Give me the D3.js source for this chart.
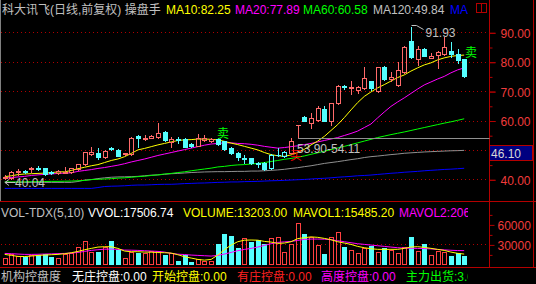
<!DOCTYPE html>
<html>
<head>
<meta charset="utf-8">
<script src="https://cdn.jsdelivr.net/npm/d3@7"></script>
<style>
html, body { margin: 0; padding: 0; background: #000; }
svg { display: block; }
text { font-family: "Liberation Sans", Arial, "Noto Sans CJK SC", sans-serif; font-size: 12px; }
</style>
</head>
<body>
<svg id="chart" width="536" height="284"></svg>
<script>
// 일봉 OHLC (70개)
var kOpen = [40.6,40.4,42.4,42.8,43.5,43.8,43.7,42.4,42.0,42.3,
	42.4,43.4,45.1,48.6,49.0,47.5,50.6,50.0,48.5,48.5,
	54.7,53.6,54.2,54.5,56.2,52.8,53.7,53.7,51.9,51.4,
	53.4,53.0,53.6,52.9,50.8,49.1,46.9,47.2,45.7,45.5,
	43.8,48.2,47.9,49.1,58.4,61.3,59.05,60.2,63.9,60.0,
	65.9,71.7,71.0,70.4,71.0,73.4,70.1,78.1,74.1,72.1,
	76.6,87.1,80.8,84.3,81.4,82.3,82.5,83.6,82.6,80.9];
var kHigh = [41.5,42.8,43.5,43.2,44.3,44.6,43.9,42.7,43.1,44.3,
	43.9,45.3,49.4,50.9,50.5,50.0,50.9,50.3,49.0,54.3,
	55.0,54.9,55.0,59.0,56.4,54.5,54.4,54.0,52.2,55.4,
	55.0,54.2,53.9,53.1,51.0,49.3,48.3,47.4,46.0,45.8,
	48.5,50.5,49.5,53.9,58.6,61.5,62.4,65.0,64.8,66.0,
	72.0,72.0,73.4,71.8,78.3,73.6,78.3,78.4,76.5,80.0,
	85.3,91.93,85.5,84.5,83.0,83.6,88.5,86.8,84.3,81.0];
var kLow = [40.04,40.2,41.4,42.2,42.6,43.1,41.5,41.9,41.9,42.0,
	42.2,43.2,44.9,48.3,46.9,47.3,49.8,47.8,48.2,48.3,
	50.9,53.3,54.0,54.2,53.1,50.9,52.4,50.9,50.9,51.2,
	53.0,52.7,51.6,50.1,48.5,46.6,45.4,45.2,44.3,43.0,
	43.6,48.0,47.7,48.9,54.11,59.7,57.3,60.0,59.7,58.5,
	65.6,70.8,68.9,69.5,70.7,70.5,69.8,73.7,73.4,71.7,
	76.3,81.4,78.9,81.8,81.2,77.8,82.3,81.5,79.6,74.9];
var kClose = [40.8,42.5,42.8,42.5,43.9,43.5,41.8,42.1,42.8,42.6,
	43.7,45.1,49.2,49.2,47.5,49.7,50.2,48.0,48.8,54.1,
	53.9,54.1,54.7,55.6,53.4,53.7,53.3,51.1,51.3,54.0,
	53.9,53.7,51.9,50.4,48.8,47.5,47.4,45.5,45.2,43.6,
	48.3,48.4,49.3,53.0,58.5,59.9,60.75,64.1,60.0,65.8,
	71.7,71.3,71.5,71.5,74.3,71.0,78.1,74.0,74.9,77.2,
	84.9,81.7,84.3,82.0,82.0,83.2,84.9,82.5,80.6,75.3];

// 지표가 칠한 봉 (index)
var paintIdx = [36, 40, 41, 42];

// 이동평균선
var ma10 = [40.9,41.2,41.6,41.8,41.9,42.0,42.1,42.3,42.5,42.55,
	43.0,43.6,44.1,44.6,45.0,45.7,46.4,46.9,47.7,48.8,
	50.0,50.5,51.1,51.7,52.2,52.7,53.2,53.4,53.5,53.7,
	53.7,53.6,53.4,52.9,52.3,51.8,51.2,50.6,50.0,49.1,
	48.4,48.0,47.8,48.3,49.1,50.2,51.7,53.0,54.6,56.6,
	58.6,61.0,63.6,66.1,68.2,69.7,71.1,72.2,73.4,74.6,
	75.5,76.8,77.9,78.9,79.6,80.6,81.3,81.8,82.1,82.25];
var ma20 = [40.4,40.6,40.8,41.0,41.3,41.5,41.7,41.8,42.0,42.1,
	42.2,42.7,43.0,43.3,43.7,44.0,44.4,44.8,45.3,45.9,
	46.4,46.9,47.5,48.1,48.6,49.1,49.6,50.1,50.6,51.1,
	51.6,52.0,52.2,52.4,52.4,52.2,52.1,51.9,51.6,51.2,
	50.9,50.6,50.8,51.1,51.4,51.8,52.2,52.7,53.2,53.7,
	54.2,54.9,55.6,56.4,57.6,58.8,60.9,62.9,64.8,66.3,
	67.7,69.2,70.7,72.1,73.1,74.1,75.0,76.2,77.2,77.89];
var ma60 = [39.1,39.1,39.1,39.15,39.2,39.2,39.25,39.3,39.3,39.35,
	39.4,39.5,39.6,39.9,40.0,40.1,40.2,40.4,40.5,40.7,
	40.9,41.05,41.3,41.5,41.8,42.0,42.3,42.55,42.9,43.2,
	43.5,43.8,44.2,44.4,44.7,44.9,45.0,45.2,45.4,45.7,
	46.05,46.4,46.8,47.1,47.5,47.95,48.5,49.0,49.55,50.1,
	50.65,51.2,51.8,52.4,53.0,53.6,54.2,54.7,55.2,55.65,
	56.1,56.6,57.1,57.6,58.1,58.6,59.1,59.55,60.05,60.58];
var ma120 = [38.95,38.95,38.95,38.95,38.95,38.95,38.95,38.95,38.95,38.95,
	38.95,39.25,39.75,39.9,40.25,40.5,40.7,40.8,40.85,40.9,
	41.0,41.2,41.4,41.5,41.7,41.9,42.0,42.15,42.3,42.4,
	42.5,42.55,42.6,42.6,42.65,42.7,42.7,42.8,42.8,42.9,
	43.05,43.2,43.4,43.7,43.95,44.3,44.6,45.0,45.4,45.7,
	46.0,46.35,46.7,47.0,47.4,47.7,47.9,48.15,48.4,48.6,
	48.85,49.0,49.15,49.3,49.4,49.5,49.6,49.7,49.75,49.84];
var ma250 = [36.9,36.9,36.9,36.9,36.9,36.9,36.9,36.9,36.9,36.9,
	36.9,36.9,36.9,36.9,37.2,37.55,37.65,37.7,37.8,37.95,
	38.05,38.05,38.15,38.25,38.3,38.3,38.4,38.55,38.6,38.7,
	38.75,38.85,38.95,39.0,39.1,39.1,39.2,39.25,39.3,39.4,
	39.5,39.55,39.65,39.75,39.85,39.95,40.1,40.25,40.35,40.5,
	40.7,40.85,41.0,41.2,41.3,41.45,41.65,41.85,42.05,42.2,
	42.4,42.55,42.7,42.9,43.05,43.2,43.35,43.45,43.6,43.75];

// 거래량
var vols = [9000,15000,12900,11400,14000,14000,15000,11400,9000,15000,
	17500,26500,35500,19000,19000,26500,35500,21500,9000,19000,
	16500,17500,19800,19800,13800,17700,4800,13800,3750,8700,
	5250,5250,30300,45300,42300,24750,39750,33750,36300,31200,
	39750,41250,18750,31200,62250,46200,41250,29700,16200,40800,
	48300,25500,21500,16500,24000,28000,19000,24000,21500,16500,
	26500,40500,20500,30500,14000,20500,19000,12500,16500,13203];
var mavol1 = [15000,13500,12000,11800,12500,13500,14000,14500,15000,16000,
	17500,19500,22000,24000,26000,26500,26500,24000,20000,19000,
	19000,18500,18300,17800,17500,17000,14500,11500,9500,7500,
	6400,7500,14000,22000,29000,34000,36300,36600,36300,34500,
	33500,31500,32000,34000,38700,40000,41250,40600,39000,37000,
	34000,32000,30000,27000,25000,23500,22600,22500,22600,22600,
	24000,26000,26600,25500,24100,22500,21000,18500,16600,15485];
var mavol2 = [16500,16000,15500,15000,15000,15200,15500,15800,16200,16500,
	17000,18000,19500,21000,22000,22800,23000,22500,21500,21300,
	21000,20500,20000,19500,18500,16500,15300,14800,14000,13500,
	13000,12500,13500,15500,18000,20500,22500,24000,26000,28500,
	31000,33000,33800,34500,36000,37500,38000,38000,37800,37000,
	35500,34000,32500,31000,30000,29000,28000,27000,26000,25000,
	24500,24200,24000,23800,23200,22500,21800,21200,20800,20600];

// 축 눈금 (50.00 은 커서 가격 상자에 가려짐)
var priceTicks = [40, 50, 60, 70, 80, 90];
var priceLabelTicks = [40, 60, 70, 80, 90];
var priceMinorTicks = [45, 55, 65, 75, 85];
var volTicks = [30000, 60000];
var volMinorTicks = [15000, 45000, 75000];

// 표시 문자열
var titleItems = [
	{ text: "科大讯飞(日线,前复权) 操盘手", x: 2, color: "#c0c0c0" },
	{ text: "MA10:82.25", x: 166, color: "#ffff00" },
	{ text: "MA20:77.89", x: 235, color: "#ff00ff" },
	{ text: "MA60:60.58", x: 303, color: "#00ff00" },
	{ text: "MA120:49.84", x: 373, color: "#c0c0c0" },
	{ text: "MA250:43.75", x: 450, color: "#0000ff" }
];
var volTitleItems = [
	{ text: "VOL-TDX(5,10)", x: 1, color: "#c0c0c0" },
	{ text: "VVOL:17506.74", x: 88, color: "#ffffff" },
	{ text: "VOLUME:13203.00", x: 183, color: "#ffff00" },
	{ text: "MAVOL1:15485.20", x: 293, color: "#ffff00" },
	{ text: "MAVOL2:20600.00", x: 399, color: "#ff00ff" }
];
var bottomItems = [
	{ text: "机构控盘度", x: 1, color: "#c0c0c0" },
	{ text: "无庄控盘:0.00", x: 72, color: "#ffffff" },
	{ text: "开始控盘:0.00", x: 152, color: "#ffff00" },
	{ text: "有庄控盘:0.00", x: 237, color: "#ff2020" },
	{ text: "高度控盘:0.00", x: 321, color: "#ff00ff" },
	{ text: "主力出货:3.00", x: 406, color: "#00ff00" }
];

var chartObj = {

	svg : null,
	x : null,
	yPrice : null,
	yVol : null,

	color : {
		up : "#ff6a6a",
		upVol : "#ff4040",
		down : "#54ffff",
		frame : "#b40000",
		grid : "#b00000",
		label : "#f03c3c",
		text : "#c0c0c0"
	},

	layout : {
		plotRight : 489.5,
		axisRight : 533.5,
		mainBottom : 201.5,
		volBottom : 267.5
	},

	init : function(id) {
		var that = this;
		that.svg = d3.select(id);
		that.x = d3.scaleLinear().domain([0, kOpen.length - 1]).range([4.7, 464.2]);
		that.yPrice = d3.scaleLinear().domain([40, 90]).range([179.3, 32.3]);
		that.yVol = d3.scaleLinear().domain([0, 60000]).range([264.4, 224.4]);

		var defs = that.svg.append("defs");
		defs.append("clipPath").attr("id", "clipText")
			.append("rect").attr("x", 0).attr("y", 0).attr("width", 468).attr("height", 284);
	},

	draw : function() {
		var that = this;
		that.svg.append("rect").attr("width", 536).attr("height", 284).attr("fill", "#000");
		that.drawGrid();
		that.drawFrame();
		that.drawAxes();
		that.drawMa();
		that.drawCandles();
		that.drawMarks();
		that.drawVolume();
		that.drawTexts();
	},

	drawGrid : function() {
		var that = this;
		var g = that.svg.append("g");
		priceTicks.forEach(function(t) {
			var y = Math.round(that.yPrice(t)) + 0.5;
			that.drawLine(g, 1, y, that.layout.plotRight, y, that.color.grid).attr("stroke-dasharray", "1,3");
		});
		var vy = Math.round(that.yVol(30000)) + 0.5;
		that.drawLine(g, 1, vy, that.layout.plotRight, vy, that.color.grid).attr("stroke-dasharray", "1,3");
	},

	drawFrame : function() {
		var that = this;
		var l = that.layout;
		that.drawLine(that.svg, 0.5, 0, 0.5, l.mainBottom, "#808080");
		that.drawLine(that.svg, l.plotRight, 0, l.plotRight, l.volBottom, that.color.frame);
		that.drawLine(that.svg, l.axisRight, 0, l.axisRight, l.volBottom, that.color.frame);
		that.drawLine(that.svg, 0, l.mainBottom, 536, l.mainBottom, that.color.frame);
		that.drawLine(that.svg, 0, l.volBottom, 536, l.volBottom, that.color.frame);

		// 오른쪽 위 아이콘
		that.svg.append("rect").attr("x", 476.5).attr("y", 3.5).attr("width", 10).attr("height", 9)
			.attr("fill", "none").attr("stroke", that.color.frame);
		that.drawLine(that.svg, 481.5, 3.5, 481.5, 12.5, that.color.frame);
	},

	drawAxes : function() {
		var that = this;
		var l = that.layout;

		var major = d3.axisRight(that.yPrice).tickValues(priceTicks).tickSize(6).tickFormat("");
		var labels = d3.axisRight(that.yPrice).tickValues(priceLabelTicks).tickSize(6).tickPadding(5)
			.tickFormat(d3.format(".2f"));
		var minor = d3.axisRight(that.yPrice).tickValues(priceMinorTicks).tickSize(3).tickFormat("");
		var vMajor = d3.axisRight(that.yVol).tickValues(volTicks).tickSize(5).tickPadding(3)
			.tickFormat(d3.format("d"));
		var vMinor = d3.axisRight(that.yVol).tickValues(volMinorTicks).tickSize(3).tickFormat("");

		[major, labels, minor, vMajor, vMinor].forEach(function(ax) {
			var g = that.svg.append("g").attr("transform", "translate(" + l.plotRight + ",0.5)").call(ax);
			g.select(".domain").remove();
			g.selectAll("line").attr("stroke", that.color.frame);
			g.selectAll("text").attr("fill", that.color.label).attr("font-size", "12px")
				.attr("font-family", "Liberation Sans, Arial, sans-serif").attr("dy", "0.38em");
		});
	},

	drawMa : function() {
		var that = this;
		var line = d3.line()
			.x(function(d, i) { return that.x(i); })
			.y(function(d) { return that.yPrice(d); });
		var g = that.svg.append("g").attr("fill", "none").attr("stroke-width", 1);
		[[ma250, "#0000ff"], [ma120, "#909090"], [ma60, "#00ff00"], [ma20, "#ff00ff"], [ma10, "#ffff00"]]
			.forEach(function(s) {
				g.append("path").attr("d", line(s[0])).attr("stroke", s[1]);
			});
	},

	drawCandles : function() {
		var that = this;
		var g = that.svg.append("g").attr("shape-rendering", "crispEdges");
		kOpen.forEach(function(o, i) {
			var c = kClose[i];
			var up = c >= o;
			var painted = paintIdx.indexOf(i) >= 0;
			var color = (painted || !up) ? that.color.down : that.color.up;
			var px = Math.round(that.x(i));
			var top = Math.round(that.yPrice(Math.max(o, c)));
			var bot = Math.round(that.yPrice(Math.min(o, c)));
			var hi = Math.round(that.yPrice(kHigh[i]));
			var lo = Math.round(that.yPrice(kLow[i]));
			var wx = px + 0.5;

			if (up) {
				if (hi < top) that.drawLine(g, wx, hi, wx, top, color);
				if (lo > bot) that.drawLine(g, wx, bot + 1, wx, lo + 1, color);
				if (bot - top < 1) {
					that.drawLine(g, px - 2, top + 0.5, px + 3, top + 0.5, color);
				} else {
					that.drawRect(g, px - 1.5, top + 0.5, 4, bot - top, "none", color);
				}
			} else {
				that.drawLine(g, wx, hi, wx, lo + 1, color);
				that.drawRect(g, px - 2, top, 5, Math.max(1, bot - top + 1), color, "none");
			}
		});
	},

	drawMarks : function() {
		var that = this;
		var g = that.svg.append("g");

		// 최고가 표시
		var hx = Math.round(that.x(61)) + 0.5;
		var hy = Math.round(that.yPrice(91.93)) - 1.5;
		g.append("path").attr("d", "M" + hx + "," + hy + "H" + (hx + 5) + "L" + (hx + 12) + "," + (hy + 4))
			.attr("fill", "none").attr("stroke", that.color.text);
		that.drawText(g, hx + 14, hy + 11, "91.93", that.color.text);

		// 최저가 표시
		var lx = Math.round(that.x(0));
		var ly = Math.round(that.yPrice(40.04)) + 3.5;
		g.append("path").attr("d", "M" + (lx + 4) + "," + (ly - 3) + "L" + (lx) + "," + ly + "L" + (lx + 4) + "," + (ly + 3) +
			"M" + lx + "," + ly + "H" + (lx + 10))
			.attr("fill", "none").attr("stroke", that.color.text);
		that.drawText(g, lx + 10, ly + 4.5, "40.04", that.color.text);

		// 매도/매수 신호
		that.drawText(g, 217, 138, "卖", "#00ff00").attr("font-size", "13px");
		that.drawText(g, 465, 57, "卖", "#00ff00").attr("font-size", "13px");
		that.drawText(g, 290, 160, "买", "#ff0000").attr("font-size", "13px");

		// 갭 표시
		var gy = Math.round(that.yPrice(54.0)) + 0.5;
		that.drawLine(g, Math.round(that.x(44)), gy, that.layout.plotRight, gy, "#909090");
		that.drawText(g, 297, 152.5, "53.90-54.11", that.color.text);

		// 현재 커서 가격
		that.drawRect(g, 489.5, 145.5, 43, 15, "#000080", that.color.frame);
		that.drawText(g, 491, 157.5, "46.10", "#d8d8d8");
	},

	drawVolume : function() {
		var that = this;
		var g = that.svg.append("g").attr("shape-rendering", "crispEdges");
		var base = Math.round(that.yVol(0));
		vols.forEach(function(v, i) {
			var up = kClose[i] >= kOpen[i];
			var px = Math.round(that.x(i));
			var top = Math.round(that.yVol(v));
			if (up) {
				that.drawRect(g, px - 1.5, top + 0.5, 4, base - top, "none", that.color.upVol);
			} else {
				that.drawRect(g, px - 2, top, 5, base - top + 1, that.color.down, "none");
			}
		});

		var line = d3.line()
			.x(function(d, i) { return that.x(i); })
			.y(function(d) { return that.yVol(d); });
		var lg = that.svg.append("g").attr("fill", "none");
		lg.append("path").attr("d", line(mavol2)).attr("stroke", "#ff00ff");
		lg.append("path").attr("d", line(mavol1)).attr("stroke", "#ffff00");
	},

	drawTexts : function() {
		var that = this;
		var g = that.svg.append("g").attr("clip-path", "url(#clipText)");
		titleItems.forEach(function(d) { that.drawText(g, d.x, 14, d.text, d.color); });
		volTitleItems.forEach(function(d) { that.drawText(g, d.x, 216.5, d.text, d.color); });
		bottomItems.forEach(function(d) { that.drawText(g, d.x, 281, d.text, d.color); });
	},

	drawLine : function(node, x1, y1, x2, y2, color) {
		return node.append("line").attr("x1", x1).attr("y1", y1).attr("x2", x2).attr("y2", y2).attr("stroke", color);
	},

	drawRect : function(node, x, y, width, height, fill, stroke) {
		return node.append("rect").attr("x", x).attr("y", y).attr("width", width).attr("height", height)
			.attr("fill", fill).attr("stroke", stroke);
	},

	drawText : function(node, x, y, text, color) {
		return node.append("text").attr("x", x).attr("y", y).attr("fill", color)
			.attr("xml:space", "preserve").style("white-space", "pre").text(text);
	}
};

chartObj.init("#chart");
chartObj.draw();
</script>
</body>
</html>
